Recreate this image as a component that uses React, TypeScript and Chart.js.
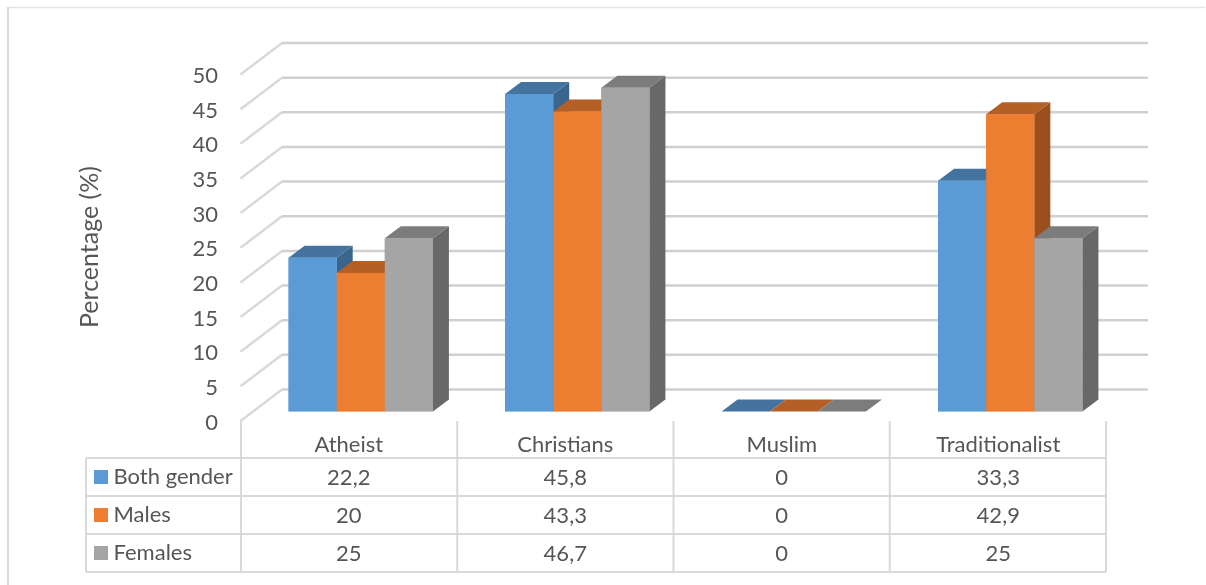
import React, { useEffect, useRef } from "react";
import { Chart, registerables } from "chart.js";

Chart.register(...registerables);

const categories = ["Atheist", "Christians", "Muslim", "Traditionalist"];
const seriesNames = ["Both gender", "Males", "Females"];
const bothGender = [22.2, 45.8, 0, 33.3];
const males = [20, 43.3, 0, 42.9];
const females = [25, 46.7, 0, 25];

const frontColors = ["#5b9bd5", "#ed7d31", "#a5a5a5"];
const topColors = ["#44739f", "#b35f25", "#7c7c7c"];
const sideColors = ["#3a658c", "#9a4f1d", "#686868"];

const FONT = "Lato, Carlito, sans-serif";
const TEXT = "#565656";
const LINE = "#d9d9d9";
const GRID = "#d0d0d0";

// Oblique offsets of the fake third dimension, in pixels.
const FLOOR_IN = { x: 12, y: -9.5 }; // front edge of the floor to the bar faces
const BAR_DEPTH = { x: 16, y: -12 }; // bar face to bar back
const WALL = { x: 41.5, y: -31.5 }; // front edge of the floor to the back wall
const WALL_RIGHT = 1148;

// Data table geometry.
const TABLE_LEFT = 86;
const TABLE_KEY_RIGHT = 241;
const TABLE_HEAD_TOP = 421;
const TABLE_BODY_TOP = 458;
const ROW_HEIGHT = 38;
const COLUMN_WIDTH = 216.25;

const series = [bothGender, males, females];

const formatValue = (v: number) => String(v).replace(".", ",");

const poly = (ctx: CanvasRenderingContext2D, pts: number[][], fill: string) => {
  ctx.beginPath();
  pts.forEach(([x, y], i) => (i ? ctx.lineTo(x, y) : ctx.moveTo(x, y)));
  ctx.closePath();
  ctx.fillStyle = fill;
  ctx.fill();
};

const segment = (
  ctx: CanvasRenderingContext2D,
  x1: number,
  y1: number,
  x2: number,
  y2: number,
  color: string,
  width: number
) => {
  ctx.beginPath();
  ctx.moveTo(x1, y1);
  ctx.lineTo(x2, y2);
  ctx.strokeStyle = color;
  ctx.lineWidth = width;
  ctx.stroke();
};

// Frame, back wall grid and floor-edge strokes, laid down behind the bars.
const wallPlugin = {
  id: "wall",
  beforeDatasetsDraw(chart: any) {
    const { ctx, scales } = chart;
    const y = scales.y;
    const frontLeft = scales.x.left - FLOOR_IN.x;
    ctx.save();
    segment(ctx, 8, 7.5, 1205, 7.5, "#e4e4e4", 1.5);
    segment(ctx, 8, 7, 8, 585, LINE, 2);
    y.ticks.forEach((t: any) => {
      const py = y.getPixelForValue(t.value) - FLOOR_IN.y;
      const backX = frontLeft + WALL.x;
      const backY = py + WALL.y;
      segment(ctx, frontLeft, py, backX, backY, LINE, 2.5);
      segment(ctx, backX, backY, WALL_RIGHT, backY, GRID, 2.5);
    });
    ctx.restore();
  },
  // Depth faces go on in left-to-right order so each bar overlaps its left neighbour.
  afterDatasetsDraw(chart: any) {
    const { ctx } = chart;
    ctx.save();
    categories.forEach((_, c) => {
      series.forEach((__, s) => {
        const bar = chart.getDatasetMeta(s).data[c];
        const { x, y, base, width } = bar.getProps(["x", "y", "base", "width"], true);
        const l = x - width / 2;
        const r = x + width / 2;
        const dx = BAR_DEPTH.x;
        const dy = BAR_DEPTH.y;
        if (base > y) {
          poly(ctx, [[r, y], [r + dx, y + dy], [r + dx, base + dy], [r, base]], sideColors[s]);
        }
        poly(ctx, [[l, y], [l + dx, y + dy], [r + dx, y + dy], [r, y]], topColors[s]);
      });
    });
    // Front faces repainted over the depth faces of the neighbouring bars.
    categories.forEach((_, c) => {
      series.forEach((__, s) => {
        const bar = chart.getDatasetMeta(s).data[c];
        const { x, y, base, width } = bar.getProps(["x", "y", "base", "width"], true);
        if (base > y) {
          ctx.fillStyle = frontColors[s];
          ctx.fillRect(x - width / 2, y, width, base - y);
        }
      });
    });
    ctx.restore();
  },
};

// Axis text and the data table beneath the plot.
const tablePlugin = {
  id: "dataTable",
  afterDraw(chart: any) {
    const { ctx, scales } = chart;
    const y = scales.y;
    const x = scales.x;
    ctx.save();
    ctx.fillStyle = TEXT;
    ctx.textBaseline = "middle";

    ctx.font = `22px ${FONT}`;
    ctx.textAlign = "right";
    y.ticks.forEach((t: any) => {
      ctx.fillText(String(t.value), 218, y.getPixelForValue(t.value) - FLOOR_IN.y + 1.5);
    });

    ctx.save();
    ctx.translate(90, 247);
    ctx.rotate(-Math.PI / 2);
    ctx.textAlign = "center";
    ctx.font = `25px ${FONT}`;
    ctx.fillText("Percentage (%)", 0, 0);
    ctx.restore();

    const rows = series.length;
    const bottom = TABLE_BODY_TOP + rows * ROW_HEIGHT;
    const right = TABLE_KEY_RIGHT + categories.length * COLUMN_WIDTH;

    for (let r = 0; r <= rows; r++) {
      const ly = TABLE_BODY_TOP + r * ROW_HEIGHT;
      segment(ctx, TABLE_LEFT, ly, right, ly, LINE, 2);
    }
    segment(ctx, TABLE_LEFT, TABLE_BODY_TOP, TABLE_LEFT, bottom, LINE, 2);
    for (let c = 0; c <= categories.length; c++) {
      const lx = TABLE_KEY_RIGHT + c * COLUMN_WIDTH;
      segment(ctx, lx, TABLE_HEAD_TOP, lx, bottom, LINE, 2);
    }

    ctx.font = `22px ${FONT}`;
    ctx.fillStyle = TEXT;
    ctx.textAlign = "center";
    categories.forEach((name, c) => {
      const cx = x.getPixelForValue(c) - FLOOR_IN.x;
      ctx.fillText(name, cx, 445);
      series.forEach((vals, s) => {
        ctx.fillText(formatValue(vals[c]), cx, TABLE_BODY_TOP + ROW_HEIGHT * (s + 0.5) + 0.5);
      });
    });

    ctx.textAlign = "left";
    seriesNames.forEach((name, s) => {
      const cy = TABLE_BODY_TOP + ROW_HEIGHT * (s + 0.5);
      ctx.fillStyle = frontColors[s];
      ctx.fillRect(94, cy - 7, 14, 14);
      ctx.fillStyle = TEXT;
      ctx.fillText(name, 113.5, cy);
    });
    ctx.restore();
  },
};

export default function App() {
  const ref = useRef<HTMLCanvasElement>(null);

  useEffect(() => {
    document.body.style.margin = "0";
    document.body.style.background = "#ffffff";
    const chart = new Chart(ref.current as HTMLCanvasElement, {
      type: "bar",
      data: {
        labels: categories,
        datasets: series.map((values, i) => ({
          label: seriesNames[i],
          data: values,
          backgroundColor: frontColors[i],
          borderWidth: 0,
          categoryPercentage: 2 / 3,
          barPercentage: 1,
        })),
      },
      options: {
        animation: false,
        responsive: false,
        maintainAspectRatio: false,
        layout: { padding: { left: 252.5, right: 87.5, top: 65, bottom: 173.5 } },
        plugins: { legend: { display: false }, tooltip: { enabled: false } },
        scales: {
          x: { display: false },
          y: { display: false, min: 0, max: 50, ticks: { stepSize: 5 } },
        },
      },
      plugins: [wallPlugin, tablePlugin],
    });
    return () => chart.destroy();
  }, []);

  return (
    <div style={{ width: 1206, height: 585 }}>
      <canvas ref={ref} width={1206} height={585} style={{ display: "block" }} />
    </div>
  );
}
